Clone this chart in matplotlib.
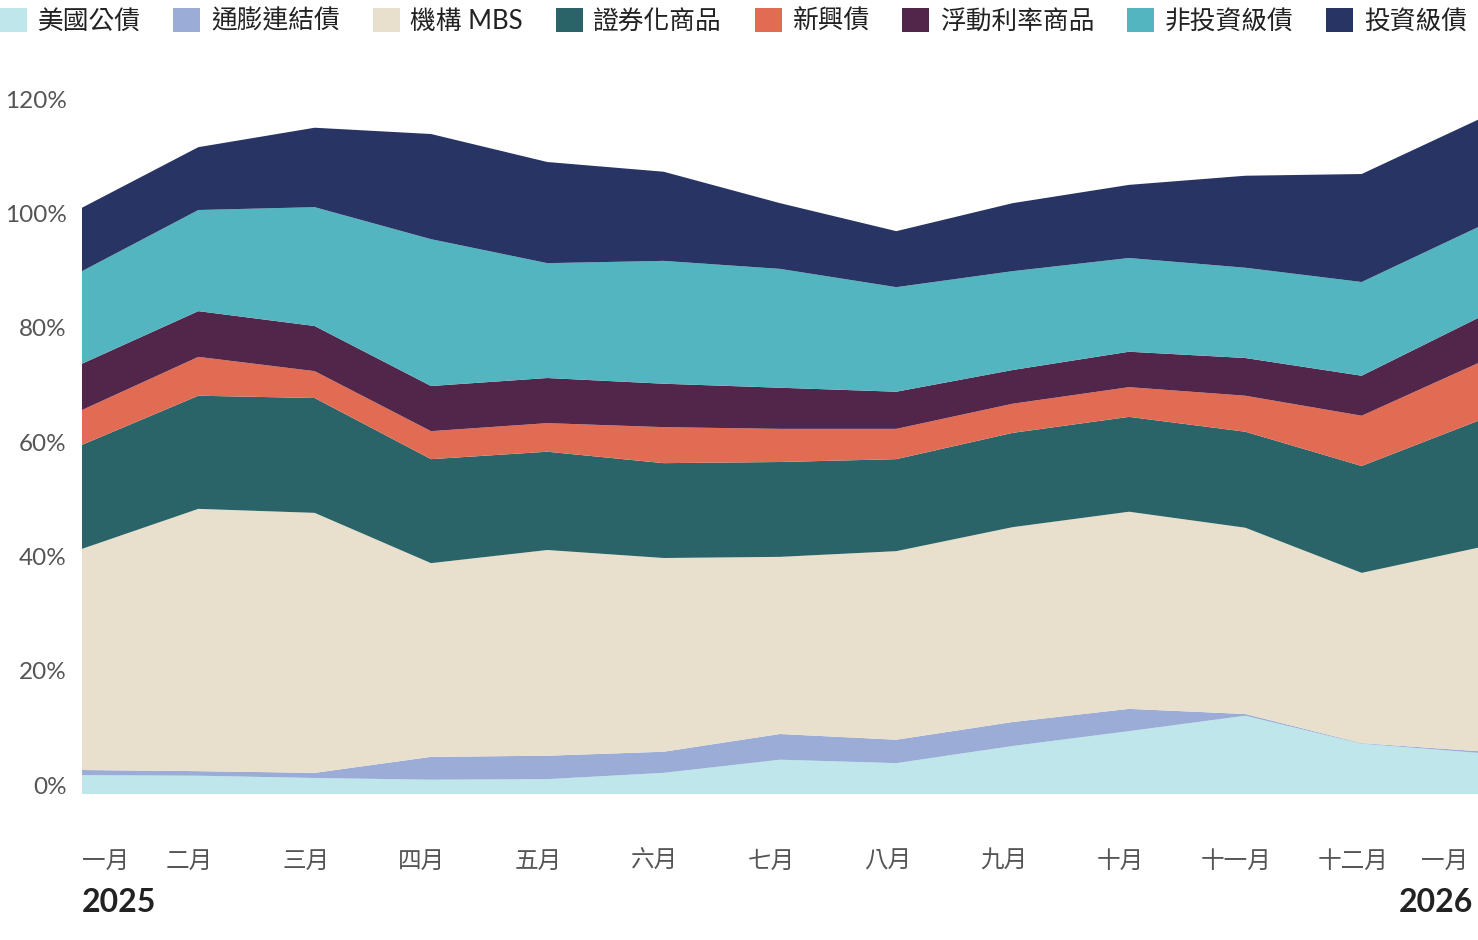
import matplotlib
matplotlib.use("Agg")
import matplotlib.pyplot as plt
import matplotlib.transforms as mtransforms
from matplotlib.patches import Patch

plt.rcParams['font.family'] = ['Lato', 'Noto Sans CJK TC', 'DejaVu Sans']

months = ["一月", "二月", "三月", "四月", "五月", "六月", "七月",
          "八月", "九月", "十月", "十一月", "十二月", "一月"]
years = ["2025", "2026"]

series_names = ["美國公債", "通膨連結債", "機構 MBS", "證券化商品",
                "新興債", "浮動利率商品", "非投資級債", "投資級債"]

ust = [3.3, 3.2, 2.8, 2.5, 2.6, 3.7, 6.0, 5.4, 8.4, 11.0, 13.7, 8.8, 7.2]
tips = [0.9, 0.8, 0.9, 4.0, 4.1, 3.7, 4.5, 4.1, 4.2, 3.9, 0.3, 0.1, 0.3]
mbs = [38.7, 45.9, 45.5, 33.9, 36.0, 33.9, 31.0, 33.0, 34.1, 34.5, 32.6, 29.8, 35.6]
securitized = [18.2, 19.8, 20.1, 18.2, 17.2, 16.6, 16.6, 16.1, 16.5, 16.6, 16.8, 18.7, 22.2]
em = [6.1, 6.8, 4.7, 4.9, 5.0, 6.3, 5.8, 5.3, 5.1, 5.2, 6.3, 8.8, 10.1]
floating = [8.1, 8.0, 7.9, 7.9, 7.9, 7.6, 7.2, 6.5, 5.9, 6.2, 6.6, 7.0, 7.9]
high_yield = [16.2, 17.7, 20.8, 25.7, 20.1, 21.5, 20.8, 18.3, 17.3, 16.4, 15.8, 16.4, 15.9]
inv_grade = [11.1, 11.0, 13.9, 18.4, 17.7, 15.6, 11.5, 9.8, 11.9, 12.8, 16.1, 18.9, 18.8]

yticks = [0, 20, 40, 60, 80, 100, 120]

colors = ["#bee6eb", "#9badd7", "#e8e0cd", "#2b6468",
          "#e26c53", "#52264a", "#52b5bf", "#283464"]

W, H = 1478, 940
fig = plt.figure(figsize=(W / 100, H / 100), dpi=100)
left_px, right_px, top_px, bottom_px = 82, 1478, 108.3, 794
ax = fig.add_axes([left_px / W, 1 - bottom_px / H,
                   (right_px - left_px) / W, (bottom_px - top_px) / H])

x = list(range(len(months)))
ax.stackplot(x, ust, tips, mbs, securitized, em, floating, high_yield, inv_grade,
             colors=colors, linewidth=0)
ax.set_xlim(0, len(months) - 1)
ax.set_ylim(0, 120)
for s in ax.spines.values():
    s.set_visible(False)

ax.set_yticks(yticks)
ax.set_yticklabels([f"{v}%" for v in yticks])
ax.tick_params(axis='y', length=0, pad=11, labelsize=17.5, labelcolor="#555555")
yoff = mtransforms.ScaledTranslation(0, 9 / 100, fig.dpi_scale_trans)
for lab in ax.get_yticklabels():
    lab.set_transform(lab.get_transform() + yoff)

ax.set_xticks([])
xtrans = ax.get_xaxis_transform()
n = len(months)
for i, m in enumerate(months):
    if i == 0:
        ha, dx = 'left', 0
    elif i == n - 1:
        ha, dx = 'right', -10
    else:
        ha, dx = 'center', -9
    off = mtransforms.ScaledTranslation(dx / 100, -67 / 100, fig.dpi_scale_trans)
    ax.text(i, 0, m, transform=xtrans + off, ha=ha, va='center',
            fontsize=17, color="#555555")

fig.text(left_px / W, 1 - 903 / H, years[0], ha='left', va='center',
         fontsize=23, fontweight='bold', color="#222222")
fig.text(1473 / W, 1 - 903 / H, years[1], ha='right', va='center',
         fontsize=23, fontweight='bold', color="#222222")

handles = [Patch(facecolor=c, edgecolor='none') for c in colors]
leg = fig.legend(handles, series_names, loc='upper left',
                 bbox_to_anchor=(0, 1.0 - 8 / H),
                 ncol=8, frameon=False, fontsize=18.5, borderpad=0,
                 borderaxespad=0, handlelength=1.05, handleheight=1.05,
                 handletextpad=0.42, columnspacing=1.27)
for t in leg.get_texts():
    t.set_color("#222222")

fig.savefig("out.png", dpi=100)
